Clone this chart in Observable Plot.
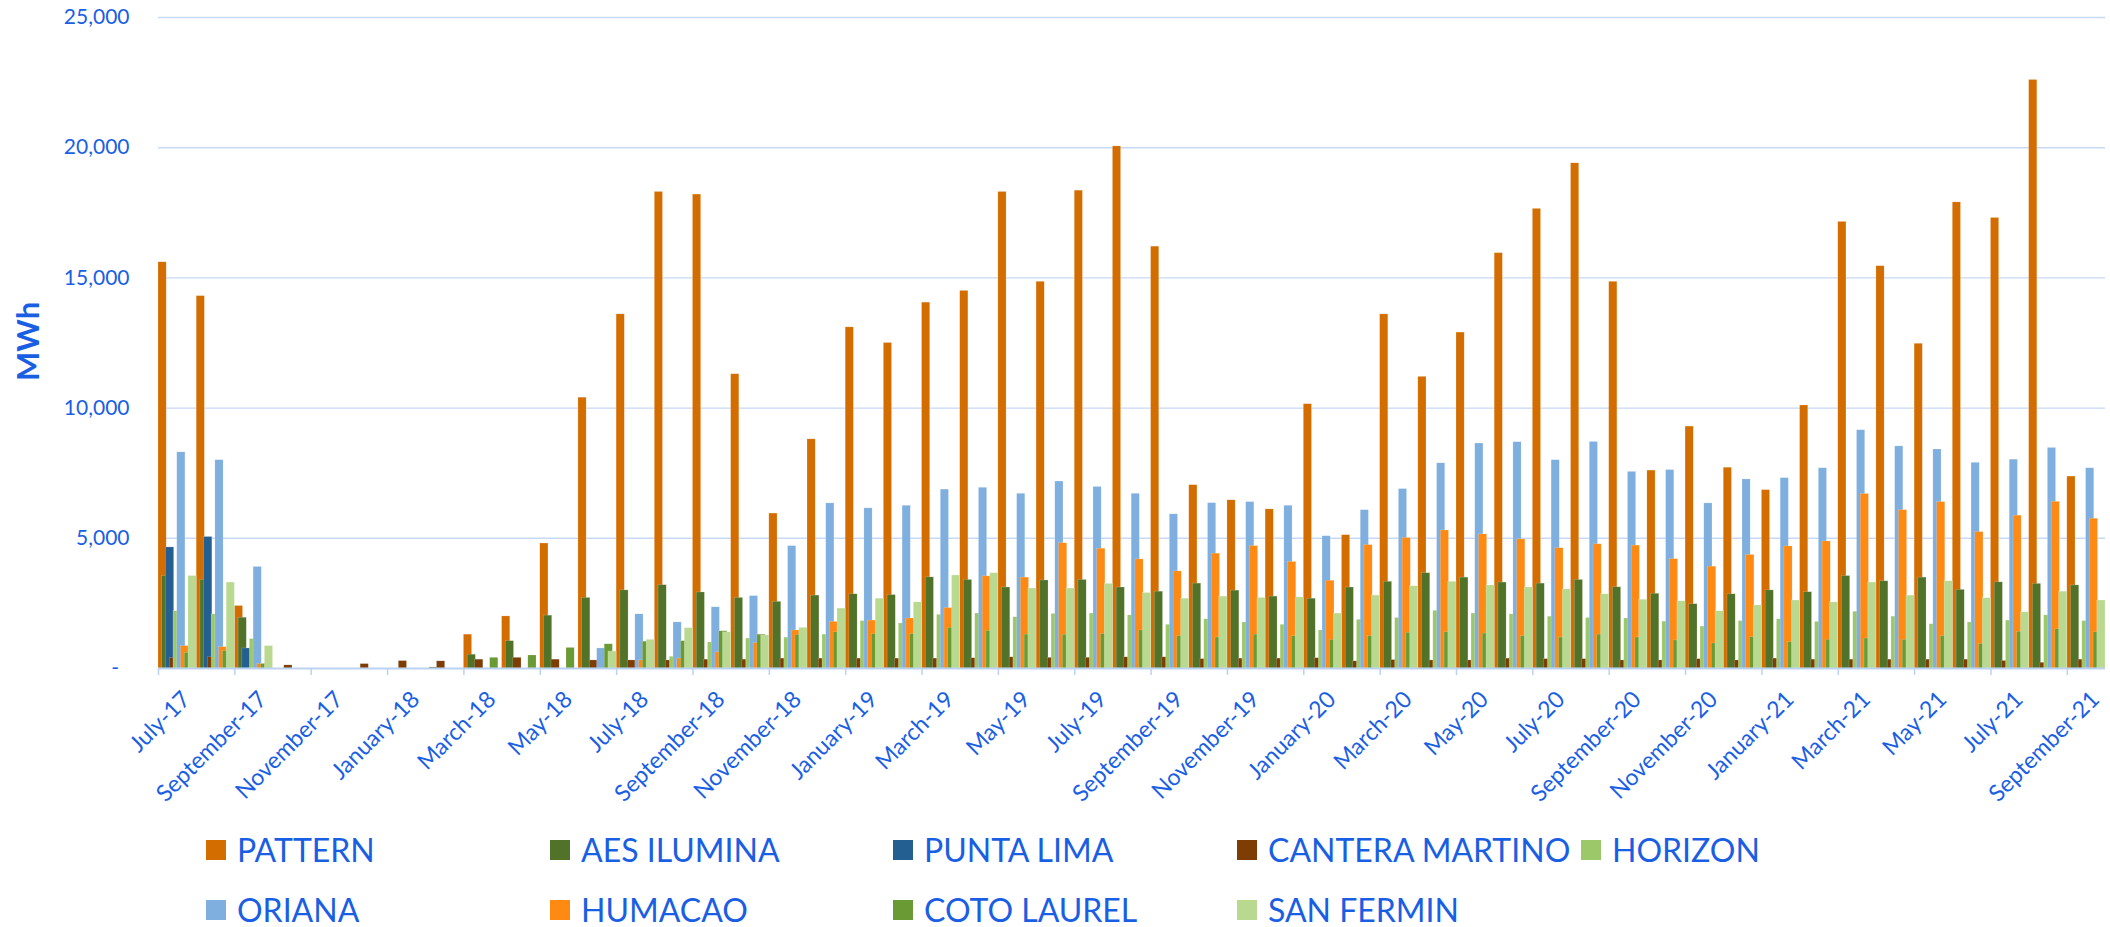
<!DOCTYPE html>
<html>
<head>
<meta charset="utf-8">
<script src="https://cdn.jsdelivr.net/npm/d3@7"></script>
<script src="https://cdn.jsdelivr.net/npm/@observablehq/plot@0.6"></script>
<style>
  html, body { margin: 0; padding: 0; background: #ffffff; }
  #wrap { width: 2110px; height: 927px; position: relative; font-family: Lato, "DejaVu Sans", sans-serif; }
  #legend { position: relative; width: 2110px; height: 117px; }
  .item { position: absolute; display: flex; align-items: center; transform: translateY(-50%); white-space: nowrap; }
  .sw { width: 20px; height: 20px; margin-right: 11px; }
  .lab { font-size: 32px; color: #1a5fe3; line-height: 1; }
</style>
</head>
<body>
<div id="wrap"><div id="chart"></div><div id="legend"></div></div>
<script>
// ---- Data ----
const months = [
  "July-17","August-17","September-17","October-17","November-17","December-17",
  "January-18","February-18","March-18","April-18","May-18","June-18",
  "July-18","August-18","September-18","October-18","November-18","December-18",
  "January-19","February-19","March-19","April-19","May-19","June-19",
  "July-19","August-19","September-19","October-19","November-19","December-19",
  "January-20","February-20","March-20","April-20","May-20","June-20",
  "July-20","August-20","September-20","October-20","November-20","December-20",
  "January-21","February-21","March-21","April-21","May-21","June-21",
  "July-21","August-21","September-21"
];
const seriesNames = ["PATTERN","AES ILUMINA","PUNTA LIMA","CANTERA MARTINO","HORIZON","ORIANA","HUMACAO","COTO LAUREL","SAN FERMIN"];
const seriesColors = ["#d46d00","#507329","#245f91","#7d3d05","#9dc86a","#7eafde","#fe8a13","#6a9a33","#b9d990"];

const PATTERN = [15600,14300,2400,0,0,0,0,0,1300,2000,4800,10400,13600,18300,18200,11300,5950,8800,13100,12500,14050,14500,18300,14850,18350,20050,16200,7040,6460,6110,10150,5120,13600,11200,12900,15950,17650,19400,14850,7600,9290,7710,6850,10100,17150,15450,12470,17900,17300,22600,7370];
const AES_ILUMINA = [3550,3400,1950,0,0,0,0,40,530,1050,2030,2710,3000,3200,2920,2710,2560,2800,2850,2820,3500,3400,3110,3380,3400,3110,2950,3260,2990,2760,2680,3110,3330,3660,3490,3300,3260,3400,3120,2870,2470,2850,3000,2930,3550,3350,3490,3020,3310,3250,3190];
const PUNTA_LIMA = [4650,5050,770,0,0,0,0,0,0,0,0,0,0,0,0,0,0,0,0,0,0,0,0,0,0,0,0,0,0,0,0,0,0,0,0,0,0,0,0,0,0,0,0,0,0,0,0,0,0,0,0];
const CANTERA_MARTINO = [400,430,0,120,0,170,285,275,340,410,340,310,310,310,340,340,380,380,380,380,380,395,430,410,410,430,430,360,380,380,395,275,325,310,310,380,360,360,310,310,360,310,380,340,340,340,340,340,290,220,340];
const HORIZON = [2200,2080,1130,0,0,0,0,0,0,0,0,0,0,450,1000,1150,1185,1300,1820,1730,2060,2110,1970,2095,2110,2040,1680,1890,1770,1680,1460,1870,1940,2215,2110,2080,1990,1940,1920,1800,1610,1820,1890,1790,2180,1990,1700,1770,1840,2040,1820];
const ORIANA = [8300,8000,3900,0,0,0,0,0,0,0,0,770,2080,1770,2350,2780,4700,6340,6150,6250,6870,6940,6710,7180,6970,6710,5920,6350,6390,6250,5080,6080,6890,7880,8640,8690,8000,8700,7550,7620,6340,7260,7310,7690,9150,8530,8410,7900,8020,8470,7690];
const HUMACAO = [860,820,170,0,0,0,0,0,0,0,0,0,310,380,620,980,1460,1790,1840,1920,2320,3540,3490,4810,4600,4190,3730,4410,4700,4090,3370,4740,5010,5300,5150,4960,4620,4770,4720,4200,3910,4360,4690,4880,6700,6080,6390,5240,5870,6400,5750];
const COTO_LAUREL = [600,670,170,0,0,0,0,0,410,500,790,930,1030,1050,1430,1300,1290,1390,1320,1320,1560,1440,1300,1290,1320,1460,1240,1190,1300,1240,1100,1240,1370,1390,1340,1240,1190,1300,1190,1080,960,1200,1010,1100,1150,1100,1240,940,1410,1510,1390];
const SAN_FERMIN = [3550,3300,860,0,0,0,0,0,0,0,0,650,1100,1550,1390,1270,1560,2300,2680,2540,3570,3660,3070,3070,3250,2900,2680,2760,2710,2730,2110,2800,3160,3330,3190,3110,3040,2850,2640,2580,2200,2420,2610,2540,3300,2800,3350,2700,2160,2950,2610];
const yTicks = [0,5000,10000,15000,20000,25000];

// ---- Build ----
const seriesValues = [PATTERN, AES_ILUMINA, PUNTA_LIMA, CANTERA_MARTINO, HORIZON, ORIANA, HUMACAO, COTO_LAUREL, SAN_FERMIN];
const rows = seriesNames.flatMap((name, k) => seriesValues[k].map((v, i) => ({name, k, i, v}))).filter(d => d.v > 0);
const tickIdx = months.map((m, i) => i).filter(i => i % 2 === 0);

const TEXT = "#1a5fe3";
const GRID = "#c6d9f5";
const AXIS = "#bcd2f2";
const STEP = 0.0982;     // offset between overlapping bars within a month (month units)
const BW = 0.2144;       // bar width (month units)

const chart = Plot.plot({
  width: 2110,
  height: 810,
  marginTop: 17,
  marginBottom: 142,
  marginLeft: 158,
  marginRight: 5,
  x: {type: "linear", domain: [0, months.length]},
  y: {domain: [0, 25000]},
  color: {domain: seriesNames, range: seriesColors},
  style: {fontFamily: "Lato, 'DejaVu Sans', sans-serif", color: TEXT, background: "white", overflow: "visible"},
  marks: [
    Plot.ruleY(yTicks.filter(d => d > 0), {stroke: GRID, strokeWidth: 1.4}),
    Plot.rectY(rows, {
      x1: d => d.i + d.k * STEP,
      x2: d => d.i + d.k * STEP + BW,
      y: "v",
      fill: "name",
      stroke: "white",
      strokeOpacity: 0.35,
      strokeWidth: 0.5
    }),
    Plot.ruleY([0], {stroke: AXIS, strokeWidth: 2}),
    Plot.axisX({ticks: tickIdx, tickSize: 7, tickFormat: () => "", stroke: AXIS, strokeWidth: 1.5, label: null}),
    Plot.text(tickIdx, {
      x: d => d + 0.5,
      text: d => months[d],
      frameAnchor: "bottom",
      rotate: -45,
      textAnchor: "end",
      lineAnchor: "middle",
      dx: 9,
      dy: 27,
      fontSize: 23,
      fill: TEXT
    }),
    Plot.axisY({
      ticks: yTicks,
      tickSize: 0,
      tickPadding: 29,
      fontSize: 21,
      label: null,
      fill: TEXT,
      tickFormat: d => d === 0 ? "-\u2002" : d3.format(",")(d)
    }),
    Plot.text(["MWh"], {
      frameAnchor: "left",
      text: d => d,
      rotate: -90,
      dx: -129,
      dy: 38,
      fontSize: 31,
      fontWeight: "bold",
      fill: TEXT
    })
  ]
});
document.getElementById("chart").appendChild(chart);

// ---- Legend ----
const legend = document.getElementById("legend");
const legendLeft = [206, 550, 893, 1237, 1581];
const legendRowY = [40, 100];
const rowSplit = [[0,1,2,3,4],[5,6,7,8]];
rowSplit.forEach((idxs, r) => {
  idxs.forEach((k, c) => {
    const it = document.createElement("div");
    it.className = "item";
    it.style.left = legendLeft[c] + "px";
    it.style.top = legendRowY[r] + "px";
    const sw = document.createElement("div");
    sw.className = "sw";
    sw.style.background = seriesColors[k];
    const lab = document.createElement("span");
    lab.className = "lab";
    lab.textContent = seriesNames[k];
    it.appendChild(sw); it.appendChild(lab);
    legend.appendChild(it);
  });
});
</script>
</body>
</html>
